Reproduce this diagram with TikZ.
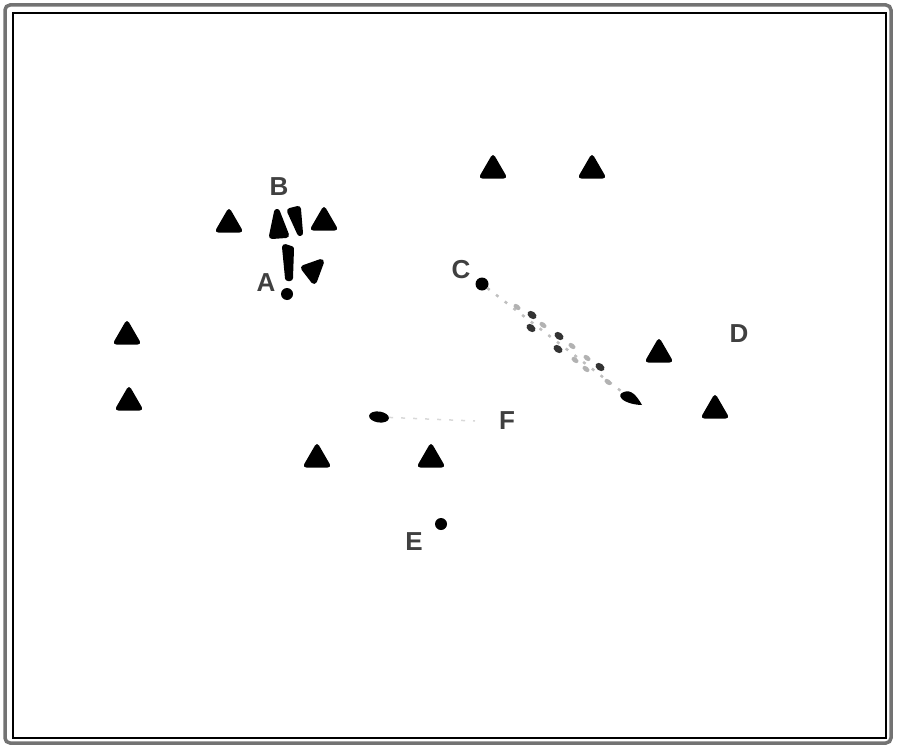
\documentclass[tikz,border=0pt]{standalone}
\usepackage{fontspec}
\setmainfont{Liberation Sans}
\usetikzlibrary{shapes.geometric}
\tikzset{
  tri/.style={regular polygon, regular polygon sides=3, fill=black, draw=black, line width=2pt, rounded corners=2.5pt, minimum size=30pt, inner sep=0pt},
  player/.style={circle, fill=black, inner sep=0pt, minimum size=#1},
  lbl/.style={font=\fontsize{26}{28}\selectfont\bfseries, text=black!75, inner sep=0pt},
  bmark/.style={fill=black, draw=black, line width=6pt, line join=round},
  gdot/.style={fill=black!30, ellipse, inner sep=0pt, minimum width=8pt, minimum height=5pt, rotate=-37},
  ddot/.style={fill=black!80, ellipse, inner sep=0pt, minimum width=10pt, minimum height=7pt, rotate=-37},
}
\begin{document}
\begin{tikzpicture}[x=1pt, y=-1pt]
\useasboundingbox (0,0) rectangle (900,752);
% frame
\draw[black!55, line width=3.5pt, rounded corners=5pt] (5,5) rectangle (891,743);
\draw[black, line width=1.2pt] (13,13) rectangle (886,738);
% defenders
\node[tri] (t1) at (229,224) {};
\node[tri] (t2) at (324,222) {};
\node[tri] (t3) at (493,170) {};
\node[tri] (t4) at (592,170) {};
\node[tri] (t5) at (127,336) {};
\node[tri] (t6) at (129,402) {};
\node[tri] (t7) at (659,354) {};
\node[tri] (t8) at (715,410) {};
\node[tri] (t9) at (317,459) {};
\node[tri] (t10) at (431,459) {};
% players
\node[player=12pt] (A) at (287,294) {};
\node[player=13pt] (C) at (482,284) {};
\node[player=12pt] (E) at (441,524) {};
% labels
\node[lbl] (lA) at (266,283) {A};
\node[lbl] (lB) at (279,187) {B};
\node[lbl] (lC) at (461,270) {C};
\node[lbl] (lD) at (739,334) {D};
\node[lbl] (lE) at (414,542) {E};
\node[lbl] (lF) at (507,421) {F};
% marks near B
\filldraw[bmark] (277,212) -- (286,235) -- (272,236) -- cycle;
\filldraw[bmark] (290,211) -- (298,209) -- (300,233) -- cycle;
\filldraw[bmark] (285,247) -- (291,249) -- (290,278) -- (288,278) -- cycle;
\filldraw[bmark] (304,268) -- (321,262) -- (314,281) -- cycle;
% dotted path from C
\coordinate (cEnd) at (630,398);
\draw[black!25, line width=2.5pt, dash pattern=on 3pt off 8pt] (C) -- (cEnd);
\node[ddot] (d1) at (532,315) {};
\node[ddot] (d2) at (531,328) {};
\node[ddot] (d3) at (559,336) {};
\node[ddot] (d4) at (558,349) {};
\node[ddot] (d5) at (600,367) {};
\node[gdot] (g1) at (543,325) {};
\node[gdot] (g2) at (572,346) {};
\node[gdot] (g3) at (575,360) {};
\node[gdot] (g4) at (587,358) {};
\node[gdot] (g5) at (586,369) {};
\node[gdot] (g6) at (608,382) {};
\node[gdot] (g7) at (517,307) {};
\fill[black] (624,392) .. controls (631,389) and (637,396) .. (642,405) .. controls (636,405) and (626,403) .. (622,399) .. controls (619,396) and (620,393) .. (624,392) -- cycle;
% F run
\node[ellipse, fill=black, minimum width=20pt, minimum height=11pt, inner sep=0pt, rotate=-8] (Fb) at (379,417) {};
\coordinate (fEnd) at (475,421);
\draw[black!15, line width=1.5pt, dash pattern=on 4pt off 8pt] (Fb) -- (fEnd);
\end{tikzpicture}
\end{document}
